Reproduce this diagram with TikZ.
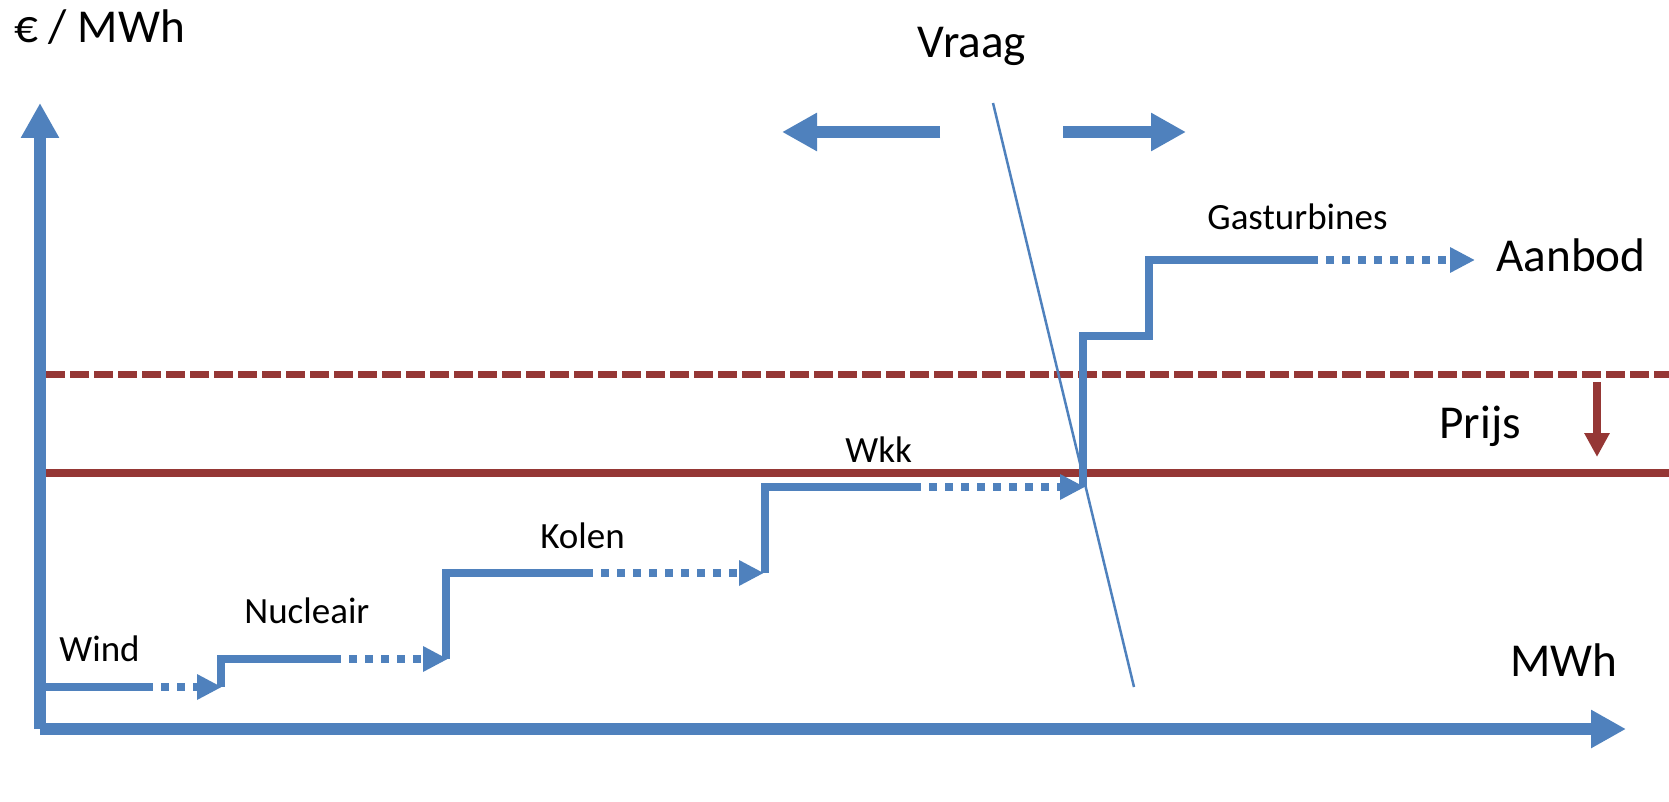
\documentclass[tikz,border=0pt]{standalone}
\usepackage{fontspec}
\setmainfont{Carlito}
\usetikzlibrary{arrows.meta}
\definecolor{ablue}{RGB}{79,129,189}
\definecolor{ared}{RGB}{149,55,53}
\tikzset{
  axisline/.style={draw=ablue,line width=6pt,-{Triangle[length=17.5pt,width=18pt]}},
  stepline/.style={draw=ablue,line width=4pt},
  stepdots/.style={draw=ablue,line width=4pt,dash pattern=on 4pt off 4pt,-{Triangle[length=12.5pt,width=12pt]}},
  pricesolid/.style={draw=ared,line width=4pt},
  pricedash/.style={draw=ared,line width=3.5pt,dash pattern=on 9.25pt off 2.75pt},
  pricearrow/.style={draw=ared,line width=4pt,-{Triangle[length=12pt,width=12pt]}},
  demand/.style={draw=ablue,line width=1.25pt},
  shiftarrow/.style={draw=ablue,line width=6pt,-{Triangle[length=17.5pt,width=18pt]}},
  biglabel/.style={inner sep=0pt,anchor=base west,font=\fontsize{23.6pt}{28pt}\selectfont},
  smalllabel/.style={inner sep=0pt,anchor=base west,font=\fontsize{18.5pt}{22pt}\selectfont},
}
\begin{document}
\begin{tikzpicture}[x=0.5pt,y=-0.5pt]
\useasboundingbox (0,0) rectangle (1669,802);
% axes coordinates
\coordinate (O) at (40,729);
\coordinate (ytip) at (40,103);
\coordinate (xtip) at (1626,729);
% price lines
\coordinate (pL) at (40,472.5);
\coordinate (pR) at (1669,472.5);
\coordinate (qL) at (46,374);
\coordinate (qR) at (1669,374);
\coordinate (pa1) at (1597,382);
\coordinate (pa2) at (1597,457);
\draw[pricedash] (qL) -- (qR);
\draw[pricesolid] (pL) -- (pR);
\draw[pricearrow] (pa1) -- (pa2);
% axes
\draw[axisline] (O) -- (ytip);
\draw[axisline] (O) -- (xtip);
% supply steps
\coordinate (w0) at (45,687);
\coordinate (w1) at (145,687);
\coordinate (w2) at (222,687);
\coordinate (n0) at (221,687);
\coordinate (n1) at (221,659);
\coordinate (n2) at (333,659);
\coordinate (n3) at (448,659);
\coordinate (k0) at (446,659);
\coordinate (k1) at (446,573);
\coordinate (k2) at (585,573);
\coordinate (k3) at (764,573);
\coordinate (c0) at (765,573);
\coordinate (c1) at (765,487);
\coordinate (c2) at (913,487);
\coordinate (c3) at (1085,487);
\coordinate (g0) at (1083,487);
\coordinate (g1) at (1083,336);
\coordinate (g2) at (1149,336);
\coordinate (g3) at (1149,260);
\coordinate (g4) at (1310,260);
\coordinate (g5) at (1475,260);
\draw[stepline] (w0) -- (w1);
\draw[stepdots] (w1) -- (w2);
\draw[stepline] (n0) -- (n1) -- (n2);
\draw[stepdots] (n2) -- (n3);
\draw[stepline] (k0) -- (k1) -- (k2);
\draw[stepdots] (k2) -- (k3);
\draw[stepline] (c0) -- (c1) -- (c2);
\draw[stepdots] (c2) -- (c3);
\draw[stepline] (g0) -- (g1) -- (g2) -- (g3) -- (g4);
\draw[stepdots] (g4) -- (g5);
% demand line
\coordinate (d0) at (993,103);
\coordinate (d1) at (1134,687);
\draw[demand] (d0) -- (d1);
% demand shift arrows
\coordinate (la0) at (940,132);
\coordinate (la1) at (782,132);
\coordinate (ra0) at (1063,132);
\coordinate (ra1) at (1186,132);
\draw[shiftarrow] (la0) -- (la1);
\draw[shiftarrow] (ra0) -- (ra1);
% labels
\node[biglabel] (ylab) at (14,43) {€ / MWh};
\node[biglabel] (vraag) at (917,58) {Vraag};
\node[biglabel] (aanbod) at (1496,271) {Aanbod};
\node[biglabel] (prijs) at (1439,438) {Prijs};
\node[biglabel] (xlab) at (1510,676) {MWh};
\node[smalllabel] (gas) at (1207,230) {Gasturbines};
\node[smalllabel] (wkk) at (845,462) {Wkk};
\node[smalllabel] (kolen) at (540,548) {Kolen};
\node[smalllabel] (nuc) at (244,623) {Nucleair};
\node[smalllabel] (wind) at (59,661) {Wind};
\end{tikzpicture}
\end{document}
